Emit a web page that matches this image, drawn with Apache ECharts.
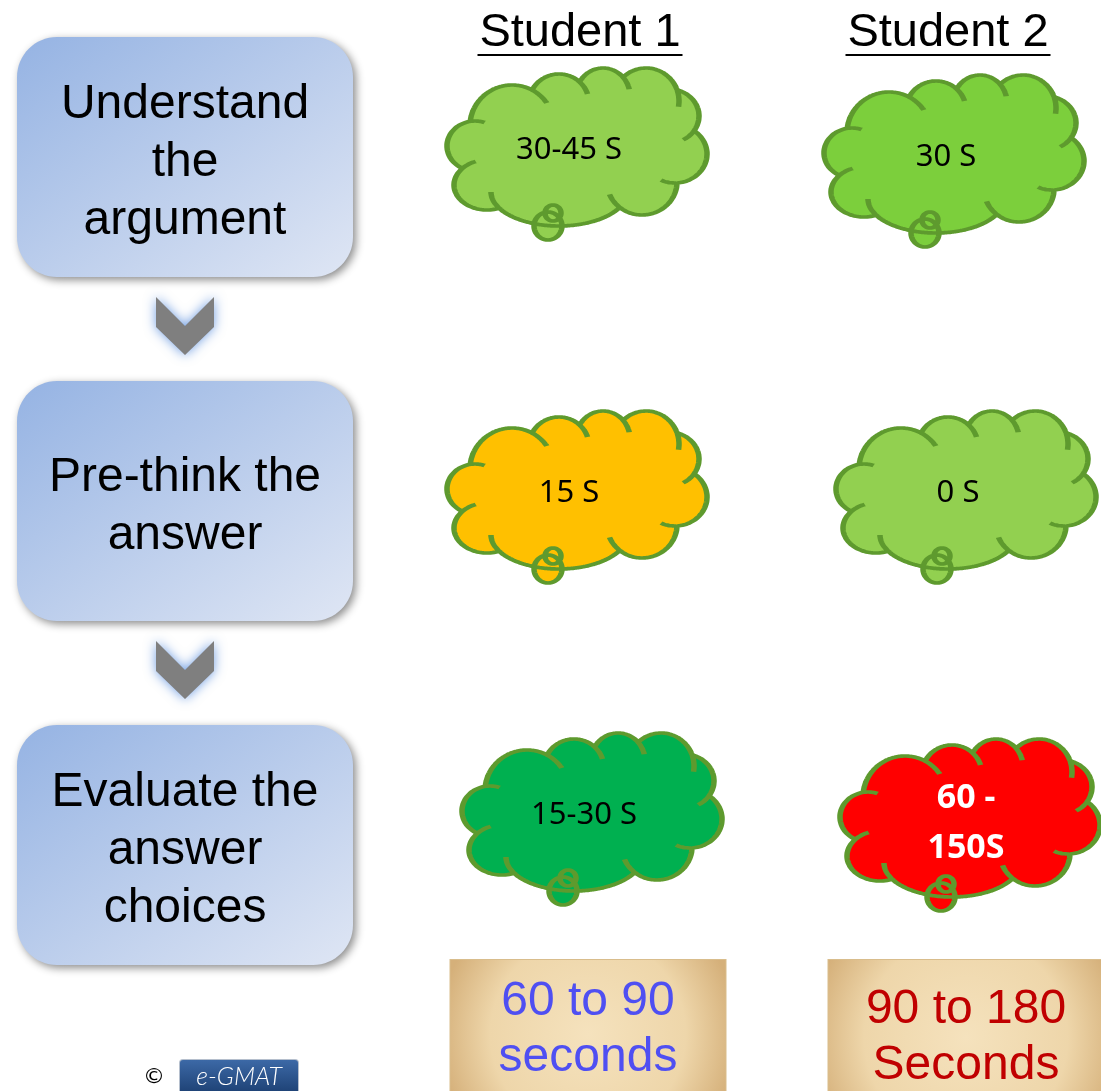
<!DOCTYPE html>
<html>
<head>
<meta charset="utf-8">
<title>Critical reasoning timing</title>
<script src="https://cdn.jsdelivr.net/npm/echarts@6/dist/echarts.min.js"></script>
<style>
  html, body { margin: 0; padding: 0; background: #fff; }
  #chart { width: 1101px; height: 1091px; }
</style>
</head>
<body>
<div id="chart"></div>
<script>
// steps of the method and the time each student spends on them
const steps = ['Understand\nthe\nargument', 'Pre-think the\nanswer', 'Evaluate the\nanswer\nchoices'];
const students = ['Student 1', 'Student 2'];
const student1Times = ['30-45 S', '15 S', '15-30 S'];
const student2Times = ['30 S', '0 S', '60 -\n150S'];
const totals = ['60 to 90\nseconds', '90 to 180\nSeconds'];

// look of the clouds (fill per step) and the totals
const cloudFills = [['#92d050', '#ffc000', '#00b050'], ['#7ccf3c', '#92d050', '#ff0000']];
const cloudNudge = [[[-11, -3], [-11, -4], [4, -26]], [[-12, 4], [0, -4], [4, -20]]];
const totalInk = ['#4f4ff2', '#c00000'];

const fmt = (n) => n.toFixed(1);

function roundRectPath(w, h, r) {
  const k = 0.5523 * r;
  return 'path://' +
    `M${r},0 L${w - r},0 C${w - r + k},0 ${w},${r - k} ${w},${r} ` +
    `L${w},${h - r} C${w},${h - r + k} ${w - r + k},${h} ${w - r},${h} ` +
    `L${r},${h} C${r - k},${h} 0,${h - r + k} 0,${h - r} ` +
    `L0,${r} C0,${r - k} ${r - k},0 ${r},0 Z`;
}

// cloud outline = union of lobes (ellipses), plus little inner arcs and the tail loops
function cloudPath() {
  const lobes = [
    [28, 78, 28, 25], [40, 117, 33, 25], [112, 124, 68, 34], [195, 114, 35, 33],
    [228, 86, 32, 29], [222, 48, 30, 27], [199, 33, 33, 33], [156, 28, 27, 28],
    [112, 35, 30, 29], [65, 58, 42, 41]
  ];
  const all = lobes.concat([[130, 82, 95, 55]]);
  const ox = 130, oy = 80;
  const reach = (ux, uy) => {
    let best = 0;
    all.forEach((e) => {
      const px = (ox - e[0]) / e[2], py = (oy - e[1]) / e[3];
      const vx = ux / e[2], vy = uy / e[3];
      const A = vx * vx + vy * vy, B = 2 * (px * vx + py * vy), C = px * px + py * py - 1;
      const disc = B * B - 4 * A * C;
      if (disc >= 0) {
        const t = (-B + Math.sqrt(disc)) / (2 * A);
        if (t > best) best = t;
      }
    });
    return best;
  };
  const pts = [];
  for (let i = 0; i < 720; i++) {
    const a = i / 720 * Math.PI * 2;
    const ux = Math.cos(a), uy = Math.sin(a);
    const r = reach(ux, uy);
    pts.push(fmt(ox + ux * r) + ',' + fmt(oy + uy * r));
  }
  let d = 'M' + pts.join('L') + 'Z';
  // short arcs where one lobe dips under its neighbour
  lobes.forEach((e) => {
    const n = 180;
    const at = (k) => {
      const f = (((k % n) + n) % n) / n * Math.PI * 2;
      return [e[0] + e[2] * Math.cos(f), e[1] + e[3] * Math.sin(f)];
    };
    const onEdge = (p) => {
      const dx = p[0] - ox, dy = p[1] - oy, dist = Math.hypot(dx, dy);
      return dist > reach(dx / dist, dy / dist) - 1.0;
    };
    const on = [];
    for (let k = 0; k < n; k++) on.push(onEdge(at(k)));
    for (let k = 0; k < n; k++) {
      if (on[k] && !on[(k + 1) % n]) {
        const seg = [];
        for (let m = 0; m <= 14; m++) { const p = at(k + m); seg.push(fmt(p[0]) + ',' + fmt(p[1])); }
        d += 'M' + seg.join('L');
      }
    }
  });
  [[106, 145, 8], [101, 158, 14]].forEach((c) => {
    const seg = [];
    for (let k = 0; k < 48; k++) {
      const f = k / 48 * Math.PI * 2;
      seg.push(fmt(c[0] + c[2] * Math.cos(f)) + ',' + fmt(c[1] + c[2] * Math.sin(f)));
    }
    d += 'M' + seg.join('L') + 'Z';
  });
  return 'path://' + d;
}

const cloud = cloudPath();
const chevron = 'path://M0,0 L29,29 L58,0 L58,30 L29,58 L0,30 Z';

const chart = echarts.init(document.getElementById('chart'), null, { renderer: 'canvas' });

const hidden = { axisLine: { show: false }, axisTick: { show: false }, splitLine: { show: false } };

function cloudSeries(si, times) {
  return {
    type: 'scatter',
    xAxisIndex: 1,
    yAxisIndex: 1,
    symbol: cloud,
    symbolSize: [260, 172],
    silent: true,
    data: times.map((t, i) => ({
      value: [si, i],
      name: t,
      symbolOffset: cloudNudge[si][i],
      itemStyle: { color: cloudFills[si][i] },
      label: cloudFills[si][i] === '#ff0000'
        ? { color: '#fff', fontWeight: 'bold', fontSize: 34, lineHeight: 50, offset: [-4, -2] }
        : {}
    })),
    itemStyle: { opacity: 1, borderColor: '#5e9a2e', borderWidth: 4.5 },
    label: {
      show: true,
      position: 'inside',
      offset: [-8, -4],
      formatter: (p) => p.name,
      color: '#000',
      fontFamily: 'Noto Sans',
      fontSize: 31,
      lineHeight: 40
    }
  };
}

const option = {
  animation: false,
  backgroundColor: '#fff',
  grid: [
    { left: 17, width: 336, top: -15, bottom: 74, containLabel: false, outerBoundsMode: 'none' },
    { left: 399, right: -54, top: -15, bottom: 74, containLabel: false, outerBoundsMode: 'none' }
  ],
  xAxis: [
    {
      gridIndex: 0, type: 'category', data: ['steps'], ...hidden,
      axisLabel: {
        interval: 0, margin: 43, padding: [0, 0, 0, 70],
        formatter: () => '{c|©}{s| }{g|e-GMAT}',
        rich: {
          c: { fontSize: 22, color: '#000', fontFamily: 'DejaVu Sans', width: 24, align: 'center' },
          s: { width: 14 },
          g: {
            width: 118, height: 34, align: 'center', color: '#fff',
            fontSize: 25, fontStyle: 'italic', fontWeight: 300, fontFamily: 'Lato',
            backgroundColor: new echarts.graphic.LinearGradient(0, 0, 0, 1, [
              { offset: 0, color: '#3d6aa8' }, { offset: 1, color: '#1c3f72' }
            ]),
            borderColor: '#b5bfcd', borderWidth: 1, borderRadius: 3
          }
        }
      }
    },
    {
      gridIndex: 1, type: 'category', position: 'top', offset: -72, ...hidden,
      data: students.map((s, i) => ({ value: s, textStyle: { padding: i ? [0, 36, 0, 0] : [0, 16, 0, 0] } })),
      axisLabel: {
        interval: 0, margin: 0,
        formatter: (v) => `{t|${v}}\n{u| }`,
        rich: {
          t: { fontSize: 47, lineHeight: 40, color: '#000', fontFamily: 'Liberation Sans' },
          u: { width: 205, height: 2, fontSize: 1, lineHeight: 4, backgroundColor: '#000' }
        }
      }
    },
    {
      gridIndex: 1, type: 'category', position: 'bottom', offset: -57, ...hidden,
      data: students.map((s, i) => ({ value: s, textStyle: { color: totalInk[i], padding: i ? [22, 0, 60, 0] : [14, 0, 60, 0] } })),
      axisLabel: {
        interval: 0, margin: 0, width: 275, align: 'center',
        formatter: (v, i) => totals[i],
        fontSize: 48, lineHeight: 56, fontFamily: 'Liberation Sans',
        backgroundColor: new echarts.graphic.RadialGradient(0.5, 0.4, 0.8, [
          { offset: 0, color: '#f5e2bd' }, { offset: 0.65, color: '#eed6aa' }, { offset: 1, color: '#d5b07a' }
        ]),
        borderColor: '#d9bd8c', borderWidth: 1
      }
    }
  ],
  yAxis: [
    { gridIndex: 0, type: 'category', data: steps, inverse: true, show: false },
    { gridIndex: 1, type: 'category', data: steps, inverse: true, show: false }
  ],
  series: [
    {
      type: 'scatter',
      xAxisIndex: 0,
      yAxisIndex: 0,
      symbol: roundRectPath(336, 240, 40),
      symbolSize: [336, 240],
      silent: true,
      data: steps.map((s, i) => ({ value: [0, i], name: s })),
      itemStyle: {
        opacity: 1,
        color: new echarts.graphic.LinearGradient(0, 0, 1, 1, [
          { offset: 0, color: '#95b3e3' }, { offset: 1, color: '#dfe6f4' }
        ]),
        shadowBlur: 8, shadowColor: 'rgba(0,0,0,0.45)', shadowOffsetX: 3, shadowOffsetY: 3
      },
      label: {
        show: true, position: 'inside', offset: [0, 6], formatter: (p) => p.name,
        color: '#000', fontSize: 48, lineHeight: 58, fontFamily: 'Liberation Sans'
      }
    },
    {
      type: 'scatter',
      xAxisIndex: 0,
      yAxisIndex: 0,
      symbol: chevron,
      symbolSize: [58, 58],
      symbolOffset: [0, 169],
      silent: true,
      data: steps.slice(0, -1).map((s, i) => [0, i]),
      itemStyle: { opacity: 1, color: '#7f7f7f', shadowBlur: 12, shadowColor: '#6f9de2' }
    },
    cloudSeries(0, student1Times),
    cloudSeries(1, student2Times)
  ]
};

chart.setOption(option);
</script>
</body>
</html>
